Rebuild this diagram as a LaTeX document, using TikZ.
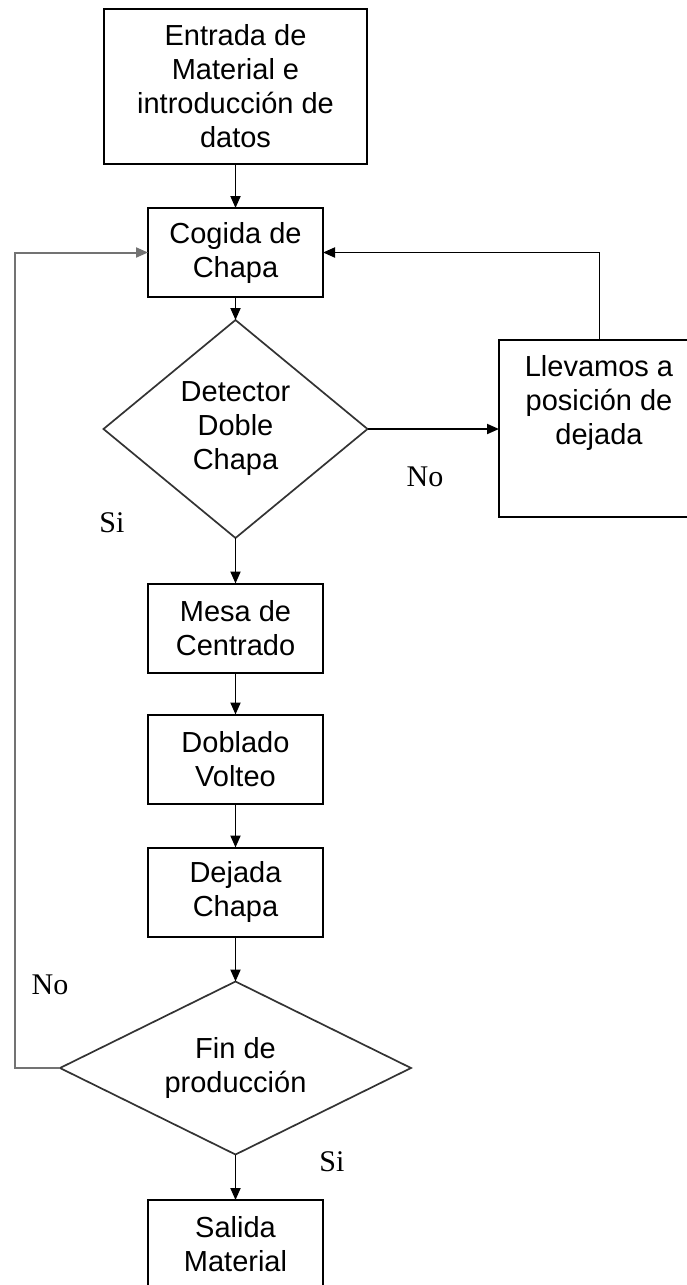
\documentclass[tikz,border=0pt]{standalone}
\usepackage{fontspec}
\setmainfont{Liberation Sans}
\newfontfamily\lblfont{Liberation Serif}
\usetikzlibrary{shapes.geometric,arrows.meta}
\begin{document}
\begin{tikzpicture}[x=1pt,y=-1pt,
  boxnode/.style={draw=black, line width=2pt, rectangle, inner sep=0pt, outer sep=0pt,
    minimum width=175pt, minimum height=89pt, align=center, font=\fontsize{29}{34}\selectfont},
  decnode/.style={draw=black!80, line width=1.7pt, diamond, inner sep=0pt, outer sep=0pt,
    align=center, font=\fontsize{29}{34}\selectfont},
  txtnode/.style={inner sep=0pt, align=center, font=\fontsize{29}{34}\selectfont},
  flow/.style={line width=1.9pt, -{Triangle[length=12pt,width=10pt]}},
  backline/.style={line width=2pt, draw=black!55, -{Triangle[length=12pt,width=10pt]}},
  lbl/.style={inner sep=0pt, font=\lblfont\fontsize{30}{34}\selectfont}
]
\fill[white] (0,0) rectangle (687,1285);
\useasboundingbox (0,0) rectangle (687,1285);

\node[boxnode, minimum width=263pt, minimum height=155pt] (b1) at (235.5,86.5)
  {Entrada de\\Material e\\introducción de\\datos};
\node[boxnode] (b2) at (235.5,252.5) {Cogida de\\Chapa};
\node[decnode, minimum width=264pt, minimum height=218pt, aspect=1.2] (d1) at (235.5,429)
  {Detector\\Doble\\Chapa};
\node[boxnode, minimum width=201pt, minimum height=177pt] (b7) at (599.5,428.5) {};
\node[txtnode] (t7) at (599,403) {Llevamos a\\posición de\\dejada};
\node[boxnode] (b3) at (235.5,628) {Mesa de\\Centrado};
\node[boxnode] (b4) at (235.5,759) {Doblado\\Volteo};
\node[boxnode] (b5) at (235.5,892) {Dejada\\Chapa};
\node[decnode, minimum width=351pt, minimum height=173pt, aspect=2] (d2) at (235.5,1068)
  {Fin de\\producción};
\node[boxnode] (b6) at (235.5,1244.5) {Salida\\Material};

\coordinate (lft) at (15,1068);

\draw[flow] (b1.south) -- (b2.north);
\draw[flow] (b2.south) -- (d1.north);
\draw[flow] (d1.east) -- (d1.east -| b7.west);
\draw[flow] (b7.north) |- (b2.east);
\draw[flow] (d1.south) -- (b3.north);
\draw[flow] (b3.south) -- (b4.north);
\draw[flow] (b4.south) -- (b5.north);
\draw[flow] (b5.south) -- (d2.north);
\draw[flow] (d2.south) -- (b6.north);
\draw[backline] (d2.west) -- (lft) |- (b2.west);

\node[lbl] (no1) at (425,477) {No};
\node[lbl] (si1) at (112,523) {Si};
\node[lbl] (no2) at (50,985) {No};
\node[lbl] (si2) at (332,1162) {Si};
\end{tikzpicture}
\end{document}
